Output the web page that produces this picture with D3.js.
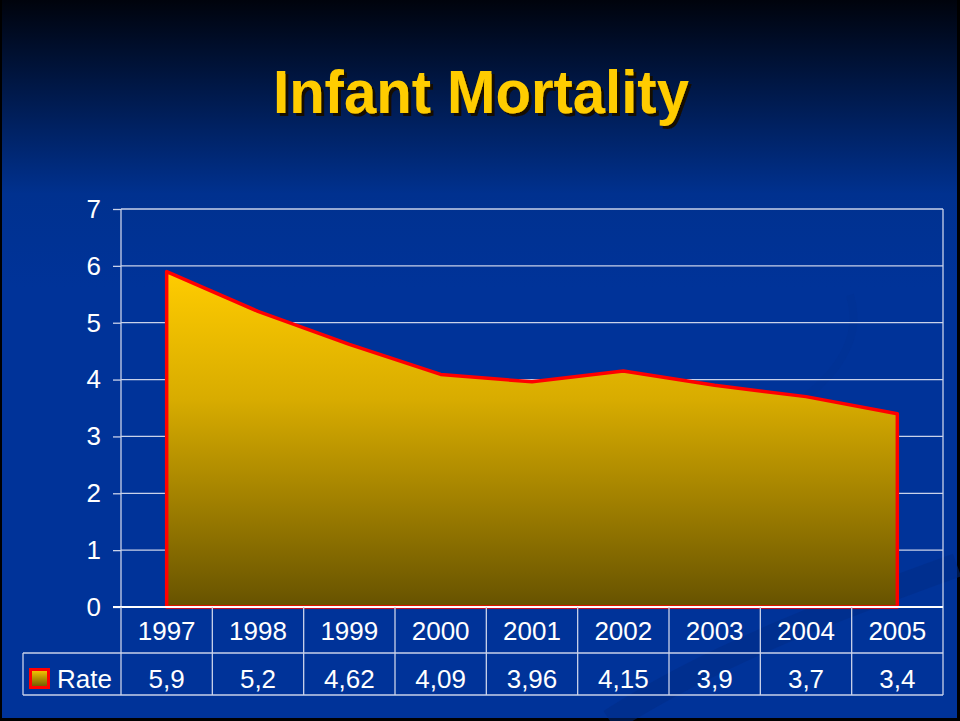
<!DOCTYPE html>
<html>
<head>
<meta charset="utf-8">
<script src="https://cdn.jsdelivr.net/npm/d3@7"></script>
<style>
  html, body { margin: 0; padding: 0; background: #000; }
  svg { display: block; }
  text { font-family: "Liberation Sans", Arial, sans-serif; }
</style>
</head>
<body>
<svg id="chart"></svg>
<script>
// chart data
var years = ["1997", "1998", "1999", "2000", "2001", "2002", "2003", "2004", "2005"];
var rates = [5.9, 5.2, 4.62, 4.09, 3.96, 4.15, 3.9, 3.7, 3.4];
var rateLabels = ["5,9", "5,2", "4,62", "4,09", "3,96", "4,15", "3,9", "3,7", "3,4"];
var yTicks = [0, 1, 2, 3, 4, 5, 6, 7];
var seriesName = "Rate";
var title = "Infant Mortality";

var W = 960, H = 721;
var margin = { top: 209, right: 17, bottom: 114, left: 121 };
var plotW = W - margin.left - margin.right;
var plotH = H - margin.top - margin.bottom;
var rowH1 = 46, rowH2 = 42;
var tableLeft = 23;
var fontSize = 26;

var svg = d3.select("#chart").attr("width", W).attr("height", H);
var defs = svg.append("defs");

var bg = defs.append("linearGradient").attr("id", "bgGrad")
	.attr("x1", 0).attr("y1", 0).attr("x2", 0).attr("y2", 1);
bg.append("stop").attr("offset", "0%").attr("stop-color", "#00030c");
bg.append("stop").attr("offset", "27%").attr("stop-color", "#00318f");
bg.append("stop").attr("offset", "40%").attr("stop-color", "#003399");
bg.append("stop").attr("offset", "100%").attr("stop-color", "#003399");

var shadow = defs.append("filter").attr("id", "titleShadow")
	.attr("x", "-5%").attr("y", "-20%").attr("width", "110%").attr("height", "140%");
shadow.append("feDropShadow").attr("dx", 3).attr("dy", 3).attr("stdDeviation", 0.4)
	.attr("flood-color", "#140f00").attr("flood-opacity", 1);

// slide background with thin dark frame
svg.append("rect").attr("width", W).attr("height", H).attr("fill", "#000");
svg.append("rect").attr("x", 2).attr("y", 0).attr("width", W - 5).attr("height", H - 3)
	.attr("fill", "url(#bgGrad)");

// faint background swooshes
var deco = svg.append("g").attr("fill", "none").attr("stroke", "#002c85");
deco.append("path").attr("d", "M610,721 C720,650 860,600 957,565").attr("stroke-width", 24).attr("stroke-opacity", 0.5);
deco.append("path").attr("d", "M690,450 C800,420 870,360 850,295").attr("stroke-width", 8).attr("stroke-opacity", 0.15);

// title
svg.append("text").attr("x", 481).attr("y", 113)
	.attr("text-anchor", "middle").attr("font-weight", "bold").attr("font-size", 61)
	.attr("fill", "#ffcc00").attr("filter", "url(#titleShadow)")
	.attr("textLength", 416).attr("lengthAdjust", "spacingAndGlyphs").text(title);

var x = d3.scaleBand().domain(years).range([margin.left, margin.left + plotW]);
var y = d3.scaleLinear().domain([0, 7]).range([margin.top + plotH, margin.top]);

var areaGrad = defs.append("linearGradient").attr("id", "areaGrad")
	.attr("gradientUnits", "userSpaceOnUse")
	.attr("x1", 0).attr("x2", 0).attr("y1", y(d3.max(rates))).attr("y2", y(0));
areaGrad.append("stop").attr("offset", "0%").attr("stop-color", "#ffcc00");
areaGrad.append("stop").attr("offset", "38%").attr("stop-color", "#d8ac00");
areaGrad.append("stop").attr("offset", "70%").attr("stop-color", "#9e7e00");
areaGrad.append("stop").attr("offset", "100%").attr("stop-color", "#665200");

var keyGrad = defs.append("linearGradient").attr("id", "keyGrad")
	.attr("x1", 0).attr("y1", 0).attr("x2", 0).attr("y2", 1);
keyGrad.append("stop").attr("offset", "0%").attr("stop-color", "#ffcc00");
keyGrad.append("stop").attr("offset", "100%").attr("stop-color", "#675300");

var gridColor = "#c9d2ea";

// gridlines + y axis
var yAxis = svg.append("g")
	.attr("transform", "translate(" + margin.left + ",0)")
	.call(d3.axisLeft(y).tickValues(yTicks).tickSize(8).tickPadding(12).tickFormat(d3.format("d")));
yAxis.select(".domain").remove();
yAxis.selectAll(".tick line").attr("stroke", gridColor).attr("stroke-width", 1.3);
yAxis.selectAll(".tick text").attr("fill", "#fff").attr("font-size", fontSize)
	.attr("font-family", "'Liberation Sans', Arial, sans-serif");

svg.append("g").selectAll("line").data(yTicks.filter(function(d) { return d > 0; })).enter()
	.append("line")
	.attr("x1", margin.left).attr("x2", margin.left + plotW)
	.attr("y1", function(d) { return y(d); }).attr("y2", function(d) { return y(d); })
	.attr("stroke", gridColor).attr("stroke-width", 1.3);

// area
var pts = years.map(function(d, i) { return { year: d, value: rates[i] }; });
var area = d3.area()
	.x(function(d) { return x(d.year) + x.bandwidth() / 2; })
	.y0(y(0))
	.y1(function(d) { return y(d.value); });
svg.append("path").datum(pts)
	.attr("d", area)
	.attr("fill", "url(#areaGrad)")
	.attr("stroke", "#ff0000").attr("stroke-width", 3.5).attr("stroke-linejoin", "round");

// axis lines
svg.append("line").attr("x1", margin.left).attr("x2", margin.left)
	.attr("y1", margin.top).attr("y2", y(0)).attr("stroke", gridColor).attr("stroke-width", 1.3);
svg.append("line").attr("x1", margin.left + plotW).attr("x2", margin.left + plotW)
	.attr("y1", margin.top).attr("y2", y(0) + rowH1 + rowH2).attr("stroke", gridColor).attr("stroke-width", 1.3);
svg.append("line").attr("x1", margin.left - 8).attr("x2", margin.left + plotW)
	.attr("y1", y(0)).attr("y2", y(0)).attr("stroke", "#ffffff").attr("stroke-width", 2);

// data table
var t0 = y(0), t1 = t0 + rowH1, t2 = t1 + rowH2;
var table = svg.append("g").attr("stroke", gridColor).attr("stroke-width", 1.3);
table.selectAll(".colLine").data(years).enter().append("line")
	.attr("class", "colLine")
	.attr("x1", function(d) { return x(d); }).attr("x2", function(d) { return x(d); })
	.attr("y1", t0).attr("y2", t2);
table.append("line").attr("x1", tableLeft).attr("x2", margin.left + plotW).attr("y1", t1).attr("y2", t1);
table.append("line").attr("x1", tableLeft).attr("x2", margin.left + plotW).attr("y1", t2).attr("y2", t2);
table.append("line").attr("x1", tableLeft).attr("x2", tableLeft).attr("y1", t1).attr("y2", t2);

svg.append("g").selectAll("text").data(years).enter().append("text")
	.attr("x", function(d) { return x(d) + x.bandwidth() / 2; })
	.attr("y", t0 + 33)
	.attr("text-anchor", "middle").attr("fill", "#fff").attr("font-size", fontSize)
	.text(function(d) { return d; });

svg.append("g").selectAll("text").data(rateLabels).enter().append("text")
	.attr("x", function(d, i) { return x(years[i]) + x.bandwidth() / 2; })
	.attr("y", t1 + 35)
	.attr("text-anchor", "middle").attr("fill", "#fff").attr("font-size", fontSize)
	.text(function(d) { return d; });

// legend key
svg.append("rect").attr("x", 30.5).attr("y", 669.5).attr("width", 18).attr("height", 18)
	.attr("fill", "url(#keyGrad)").attr("stroke", "#ff0000").attr("stroke-width", 3);
svg.append("text").attr("x", 57).attr("y", t1 + 35).attr("fill", "#fff").attr("font-size", fontSize)
	.text(seriesName);
</script>
</body>
</html>
